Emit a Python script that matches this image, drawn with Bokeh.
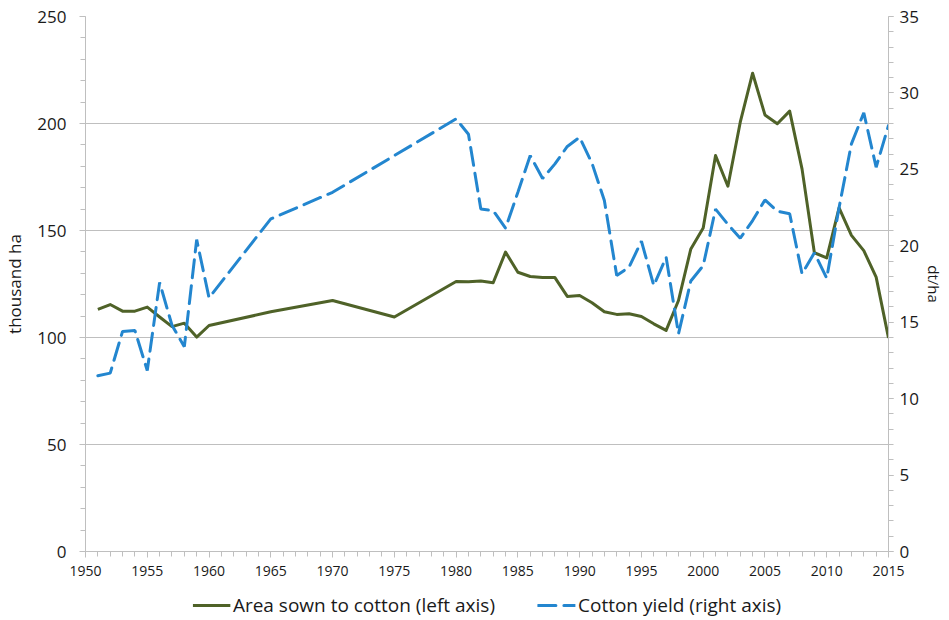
from bokeh.plotting import figure
from bokeh.layouts import column
from bokeh.models import Range1d, LinearAxis, Legend, LegendItem, SingleIntervalTicker, FixedTicker
from bokeh.embed import file_html
from bokeh.resources import INLINE

years = [1951, 1952, 1953, 1954, 1955, 1956, 1957, 1958, 1959, 1960, 1965, 1970, 1975,
         1980, 1981, 1982, 1983, 1984, 1985, 1986, 1987, 1988, 1989, 1990, 1991, 1992,
         1993, 1994, 1995, 1996, 1997, 1998, 1999, 2000, 2001, 2002, 2003, 2004, 2005,
         2006, 2007, 2008, 2009, 2010, 2011, 2012, 2013, 2014, 2015]
area = [113.1, 115.4, 112.3, 112.3, 114.2, 109.6, 105.1, 106.7, 100.2, 105.6, 112.0, 117.3, 109.6,
        126.2, 126.0, 126.4, 125.6, 139.9, 130.5, 128.5, 128.0, 128.0, 119.2, 119.6, 116.2, 112.0,
        110.8, 111.1, 109.8, 106.4, 103.3, 117.3, 141.4, 151.2, 185.0, 170.7, 200.6, 223.5, 204.0,
        199.9, 205.8, 178.8, 139.6, 137.2, 160.6, 147.7, 140.6, 128.2, 99.8]
yield_ = [11.5, 11.67, 14.4, 14.46, 11.84, 17.6, 14.8, 13.4, 20.4, 16.6, 21.76, 23.5, 25.9,
          28.3, 27.3, 22.4, 22.3, 21.15, 23.5, 25.9, 24.4, 25.36, 26.5, 27.1, 25.4, 22.96,
          18.06, 18.6, 20.3, 17.4, 19.25, 14.24, 17.7, 18.7, 22.4, 21.4, 20.5, 21.65, 23.0,
          22.26, 22.1, 18.17, 19.54, 17.88, 22.5, 26.67, 28.7, 25.14, 27.87]
left_ticks = [0, 50, 100, 150, 200, 250]
right_ticks = [0, 5, 10, 15, 20, 25, 30, 35]

label_area = "Area sown to cotton (left axis)"
label_yield = "Cotton yield (right axis)"

GREEN = "#4f6228"
BLUE = "#2386cf"
AXIS = "#bfbfbf"
TEXT = "#1a1a1a"
FONT = "Open Sans"
W = 949

p = figure(width=W, height=590, output_backend="svg", toolbar_location=None,
           x_range=Range1d(1950, 2015), y_range=Range1d(0, 250),
           min_border_left=83, min_border_right=61, min_border_top=16, min_border_bottom=39)
p.extra_y_ranges = {"right": Range1d(0, 35)}
p.outline_line_color = None
p.background_fill_color = "white"
p.border_fill_color = "white"

r_area = p.line(years, area, line_color=GREEN, line_width=3, line_join="round")
r_yield = p.line(years, yield_, line_color=BLUE, line_width=3, line_dash="18 8",
                 y_range_name="right", line_cap="round")

def style_axis(ax):
    ax.axis_line_color = AXIS
    ax.major_tick_line_color = AXIS
    ax.minor_tick_line_color = AXIS
    ax.major_tick_out = 6
    ax.major_tick_in = 0
    ax.minor_tick_out = 5
    ax.minor_tick_in = 0
    ax.major_label_text_font = FONT
    ax.major_label_text_color = TEXT
    ax.axis_label_text_font = FONT
    ax.axis_label_text_color = TEXT
    ax.axis_label_text_font_style = "normal"

xa = p.xaxis[0]
xa.ticker = SingleIntervalTicker(interval=5, num_minor_ticks=5)
style_axis(xa)
xa.major_label_text_font_size = "14px"
xa.major_label_standoff = 8

ya = p.yaxis[0]
ya.ticker = FixedTicker(ticks=left_ticks, minor_ticks=list(range(0, 251, 10)))
style_axis(ya)
ya.major_label_text_font_size = "17px"
ya.axis_label = "thousand ha"
ya.axis_label_text_font_size = "17px"
ya.major_label_standoff = 13
ya.axis_label_standoff = 8

yr = LinearAxis(y_range_name="right",
                ticker=FixedTicker(ticks=right_ticks, minor_ticks=list(range(0, 36))))
style_axis(yr)
yr.major_tick_out = 5
yr.minor_tick_out = 5
yr.major_label_text_font_size = "17px"
yr.axis_label = "dt/ha"
yr.axis_label_text_font_size = "15px"
yr.major_label_standoff = 6
yr.axis_label_standoff = 2
p.add_layout(yr, "right")

p.xgrid.grid_line_color = None
p.ygrid.grid_line_color = AXIS
p.ygrid.grid_line_width = 1
p.ygrid.ticker = FixedTicker(ticks=left_ticks)

# legend strip below the chart: same series, kept out of view, only their legend glyphs show
lf = figure(width=W, height=30, output_backend="svg", toolbar_location=None,
            x_axis_type=None, y_axis_type=None,
            x_range=Range1d(1950, 2015), y_range=Range1d(1000, 1001),
            min_border_left=83, min_border_right=61, min_border_top=0, min_border_bottom=0)
lf.outline_line_color = None
l_area = lf.line(years, area, line_color=GREEN, line_width=3)
l_yield = lf.line(years, yield_, line_color=BLUE, line_width=3, line_dash="18 8", line_cap="round")
legend = Legend(items=[LegendItem(label=label_area, renderers=[l_area]),
                       LegendItem(label=label_yield, renderers=[l_yield])],
                orientation="horizontal", location="center",
                label_text_font=FONT, label_text_font_size="19px", label_text_color=TEXT,
                glyph_width=38, label_standoff=3, spacing=42, border_line_color=None,
                background_fill_alpha=0, padding=2, margin=0)
lf.add_layout(legend, "center")

open("out.html", "w").write(file_html(column(p, lf, spacing=0), INLINE))
